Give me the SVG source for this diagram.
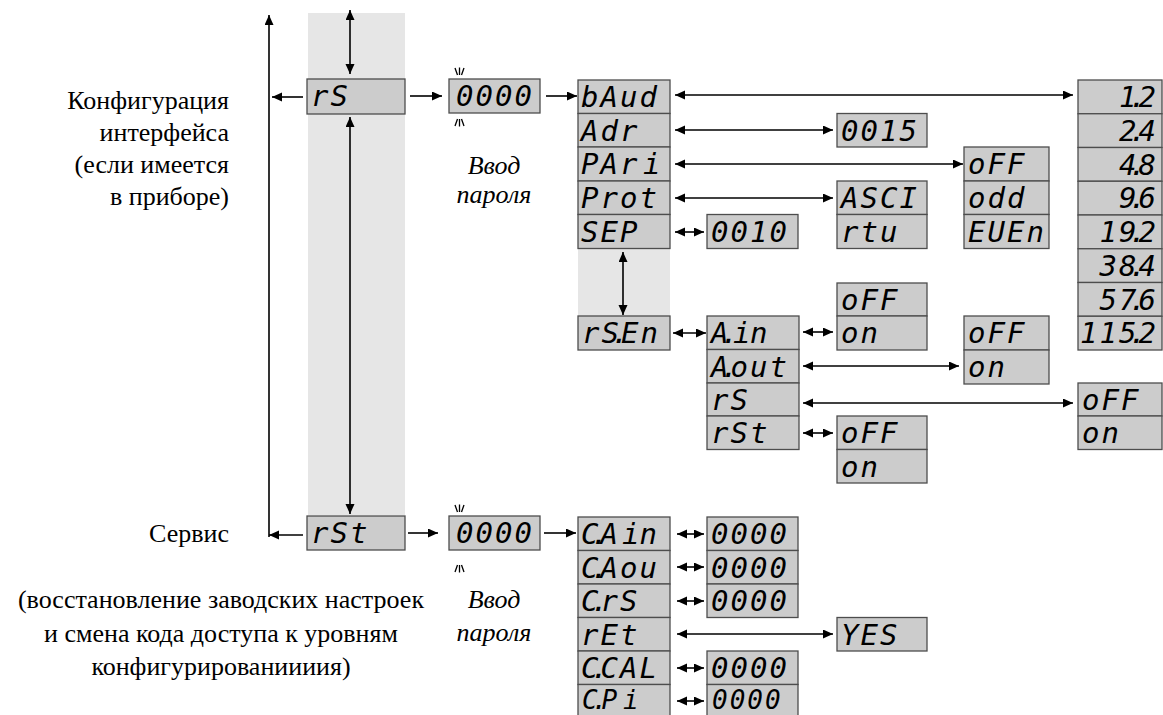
<svg xmlns="http://www.w3.org/2000/svg" width="1163" height="715" viewBox="0 0 1163 715">
<style>
.shade{fill:#e6e6e6}
.box{fill:#cccccc;stroke:#4d4d4d;stroke-width:1.3}
.seg{font-family:"DejaVu Sans Mono",monospace;font-style:oblique;font-size:29px;fill:#000;letter-spacing:2px}
.sm{font-size:26px}
.lbl{font-family:"Liberation Serif","Times New Roman","DejaVu Serif",serif;font-size:26px;fill:#000}
.it{font-style:italic;text-anchor:middle}
.ar{stroke:#000;stroke-width:1.6;fill:none;marker-end:url(#ah)}
.da{stroke:#000;stroke-width:1.6;fill:none;marker-start:url(#ah);marker-end:url(#ah)}
.tk{stroke:#000;stroke-width:1.3}
</style>
<defs>
<marker id="ah" markerUnits="userSpaceOnUse" markerWidth="11" markerHeight="10" refX="10" refY="4.5" orient="auto-start-reverse">
<path d="M0,0 L10,4.5 L0,9 z" fill="#000"/>
</marker>
</defs>
<rect class="shade" x="308" y="13" width="97" height="502"/>
<rect class="shade" x="578" y="249" width="92" height="67"/>

<g id="labels">
<text class="lbl" x="229" y="109" text-anchor="end">Конфигурация</text>
<text class="lbl" x="229" y="141" text-anchor="end">интерфейса</text>
<text class="lbl" x="229" y="173" text-anchor="end">(если имеется</text>
<text class="lbl" x="229" y="205" text-anchor="end">в приборе)</text>
<text class="lbl" x="229" y="542" text-anchor="end">Сервис</text>
<text class="lbl" x="221" y="608" text-anchor="middle">(восстановление заводских настроек</text>
<text class="lbl" x="221" y="642" text-anchor="middle">и смена кода доступа к уровням</text>
<text class="lbl" x="221" y="675" text-anchor="middle">конфигурированиииия)</text>
<text class="lbl it" x="494" y="174">Ввод</text>
<text class="lbl it" x="494" y="203">пароля</text>
<text class="lbl it" x="494" y="608">Ввод</text>
<text class="lbl it" x="494" y="641">пароля</text>
</g>

<g id="node-rS"><rect class="box" x="307" y="79" width="98" height="35"/><text class="seg" x="311" y="106">rS</text></g>
<g id="node-rSt"><rect class="box" x="307" y="516" width="98" height="34"/><text class="seg" x="311" y="543">rSt</text></g>

<g id="node-pass1"><rect class="box" x="449" y="79" width="91" height="34"/><text class="seg" x="456" y="106">0000</text>
<path class="tk" d="M455,68 L457.5,75 M459.5,67.5 L459.5,75 M464,68 L461.5,75 M455,126 L457.5,119 M459.5,126.5 L459.5,119 M464,126 L461.5,119"/></g>
<g id="node-pass2"><rect class="box" x="449" y="516" width="91" height="34"/><text class="seg" x="456" y="543">0000</text>
<path class="tk" d="M455,505 L457.5,512 M459.5,504.5 L459.5,512 M464,505 L461.5,512 M455,572 L457.5,565 M459.5,572.5 L459.5,565 M464,572 L461.5,565"/></g>

<g id="node-bAud"><rect class="box" x="578" y="80" width="92" height="33.5"/><text class="seg" x="581" y="107">bAud</text></g>
<g id="node-Adr"><rect class="box" x="578" y="113.5" width="92" height="33.5"/><text class="seg" x="581" y="140.5">Adr</text></g>
<g id="node-PAri"><rect class="box" x="578" y="147" width="92" height="34"/><text class="seg" x="581 600.5 620 643" y="174">PAri</text></g>
<g id="node-Prot"><rect class="box" x="578" y="181" width="92" height="33.5"/><text class="seg" x="581" y="208">Prot</text></g>
<g id="node-SEP"><rect class="box" x="578" y="214.5" width="92" height="34"/><text class="seg" x="581" y="241.5">SEP</text></g>

<g id="node-0015"><rect class="box" x="837" y="113.5" width="90" height="33.5"/><text class="seg" x="841" y="140.5">0015</text></g>
<g id="node-prot-val"><rect class="box" x="837" y="181" width="90" height="33.5"/><text class="seg" x="841" y="208">ASCI</text>
<rect class="box" x="837" y="214.5" width="90" height="34"/><text class="seg" x="841" y="241.5">rtu</text></g>
<g id="node-par-val"><rect class="box" x="964" y="147" width="85" height="34"/><text class="seg" x="968" y="174">oFF</text>
<rect class="box" x="964" y="181" width="85" height="33.5"/><text class="seg" x="968" y="208">odd</text>
<rect class="box" x="964" y="214.5" width="85" height="34"/><text class="seg" x="968" y="241.5">EUEn</text></g>
<g id="node-0010"><rect class="box" x="707" y="214.5" width="91" height="34"/><text class="seg" x="711" y="241.5">0010</text></g>

<g id="node-baud-val">
<rect class="box" x="1078" y="80" width="84" height="33.75"/><text class="seg" x="1119 1129 1138.5" y="107">1.2</text>
<rect class="box" x="1078" y="113.75" width="84" height="33.75"/><text class="seg" x="1119 1129 1138.5" y="140.75">2.4</text>
<rect class="box" x="1078" y="147.5" width="84" height="33.75"/><text class="seg" x="1119 1129 1138.5" y="174.5">4.8</text>
<rect class="box" x="1078" y="181.25" width="84" height="33.75"/><text class="seg" x="1119 1129 1138.5" y="208.25">9.6</text>
<rect class="box" x="1078" y="215" width="84" height="33.75"/><text class="seg" x="1099.5 1119 1129 1138.5" y="242">19.2</text>
<rect class="box" x="1078" y="248.75" width="84" height="33.75"/><text class="seg" x="1099.5 1119 1129 1138.5" y="275.75">38.4</text>
<rect class="box" x="1078" y="282.5" width="84" height="33.75"/><text class="seg" x="1099.5 1119 1129 1138.5" y="309.5">57.6</text>
<rect class="box" x="1078" y="316.25" width="84" height="33.75"/><text class="seg" x="1080 1099.5 1119 1129 1138.5" y="343.25">115.2</text>
</g>

<g id="node-rSEn"><rect class="box" x="578" y="316" width="92" height="34"/><text class="seg" x="582 601.5 611.5 621 640.5" y="343">rS.En</text></g>
<g id="node-Ain"><rect class="box" x="707" y="316" width="92" height="33.5"/><text class="seg" x="711 721 733 750" y="343">A.in</text></g>
<g id="node-Aout"><rect class="box" x="707" y="349.5" width="92" height="33.5"/><text class="seg" x="711 721 730.5 750 769.5" y="376.5">A.out</text></g>
<g id="node-rS2"><rect class="box" x="707" y="383" width="92" height="33"/><text class="seg" x="711" y="410">rS</text></g>
<g id="node-rSt2"><rect class="box" x="707" y="416" width="92" height="33.5"/><text class="seg" x="711" y="443">rSt</text></g>

<g id="node-Ain-val"><rect class="box" x="837" y="283" width="90" height="33"/><text class="seg" x="841" y="310">oFF</text>
<rect class="box" x="837" y="316" width="90" height="34"/><text class="seg" x="841" y="343">on</text></g>
<g id="node-Aout-val"><rect class="box" x="964" y="316" width="85" height="34"/><text class="seg" x="968" y="343">oFF</text>
<rect class="box" x="964" y="350" width="85" height="34"/><text class="seg" x="968" y="377">on</text></g>
<g id="node-rS-val"><rect class="box" x="1078" y="383" width="84" height="33"/><text class="seg" x="1082" y="410">oFF</text>
<rect class="box" x="1078" y="416" width="84" height="33.5"/><text class="seg" x="1082" y="443">on</text></g>
<g id="node-rSt-val"><rect class="box" x="837" y="416" width="90" height="33.5"/><text class="seg" x="841" y="443">oFF</text>
<rect class="box" x="837" y="449.5" width="90" height="33.5"/><text class="seg" x="841" y="476.5">on</text></g>

<g id="node-CAin"><rect class="box" x="578" y="517" width="92" height="33.5"/><text class="seg" x="581 591 600.5 622 639.5" y="544">C.Ain</text></g>
<g id="node-CAou"><rect class="box" x="578" y="550.5" width="92" height="33.5"/><text class="seg" x="581 591 600.5 620 639.5" y="577.5">C.Aou</text></g>
<g id="node-CrS"><rect class="box" x="578" y="584" width="92" height="33.5"/><text class="seg" x="581 591 600.5 620" y="611">C.rS</text></g>
<g id="node-rEt"><rect class="box" x="578" y="617.5" width="92" height="33.5"/><text class="seg" x="581" y="644.5">rEt</text></g>
<g id="node-CCAL"><rect class="box" x="578" y="651" width="92" height="33.5"/><text class="seg" x="581 591 600.5 620 639.5" y="677.5">C.CAL</text></g>
<g id="node-CPi"><rect class="box" x="578" y="684.5" width="92" height="33"/><text class="seg sm" x="582 592 601.5 623" y="708.5">C.Pi</text></g>

<g id="node-svc-vals">
<rect class="box" x="707" y="517" width="91" height="33.5"/><text class="seg" x="711" y="544">0000</text>
<rect class="box" x="707" y="550.5" width="91" height="33.5"/><text class="seg" x="711" y="577.5">0000</text>
<rect class="box" x="707" y="584" width="91" height="33.5"/><text class="seg" x="711" y="611">0000</text>
<rect class="box" x="707" y="651" width="91" height="33.5"/><text class="seg" x="711" y="677.5">0000</text>
<rect class="box" x="707" y="684.5" width="91" height="33"/><text class="seg sm" x="712" y="708.5" letter-spacing="4">0000</text>
</g>
<g id="node-YES"><rect class="box" x="837" y="617.5" width="90" height="33.5"/><text class="seg" x="841" y="644.5">YES</text></g>

<g id="connectors">
<line class="ar" x1="269" y1="537" x2="269" y2="15"/>
<line class="ar" x1="303" y1="97" x2="272" y2="97"/>
<line class="ar" x1="303" y1="535" x2="269" y2="535"/>
<line class="da" x1="350" y1="10" x2="350" y2="74"/>
<line class="da" x1="350" y1="117" x2="350" y2="514"/>
<line class="ar" x1="410" y1="96" x2="442" y2="96"/>
<line class="ar" x1="408" y1="533" x2="438" y2="533"/>
<line class="ar" x1="546" y1="96" x2="577" y2="96"/>
<line class="ar" x1="544" y1="533" x2="576" y2="533"/>
<line class="da" x1="675" y1="95" x2="1073" y2="95"/>
<line class="da" x1="675" y1="130" x2="833" y2="130"/>
<line class="da" x1="675" y1="164" x2="963" y2="164"/>
<line class="da" x1="675" y1="198" x2="833" y2="198"/>
<line class="da" x1="675" y1="232" x2="704" y2="232"/>
<line class="da" x1="623" y1="252" x2="623" y2="315"/>
<line class="da" x1="673" y1="333" x2="706" y2="333"/>
<line class="da" x1="803" y1="332" x2="833" y2="332"/>
<line class="da" x1="803" y1="366" x2="959" y2="366"/>
<line class="da" x1="803" y1="403" x2="1073" y2="403"/>
<line class="da" x1="803" y1="433" x2="833" y2="433"/>
<line class="da" x1="677" y1="534" x2="704" y2="534"/>
<line class="da" x1="677" y1="567" x2="704" y2="567"/>
<line class="da" x1="677" y1="601" x2="704" y2="601"/>
<line class="da" x1="677" y1="634" x2="833" y2="634"/>
<line class="da" x1="677" y1="668" x2="704" y2="668"/>
<line class="da" x1="677" y1="701" x2="704" y2="701"/>
</g>
</svg>
